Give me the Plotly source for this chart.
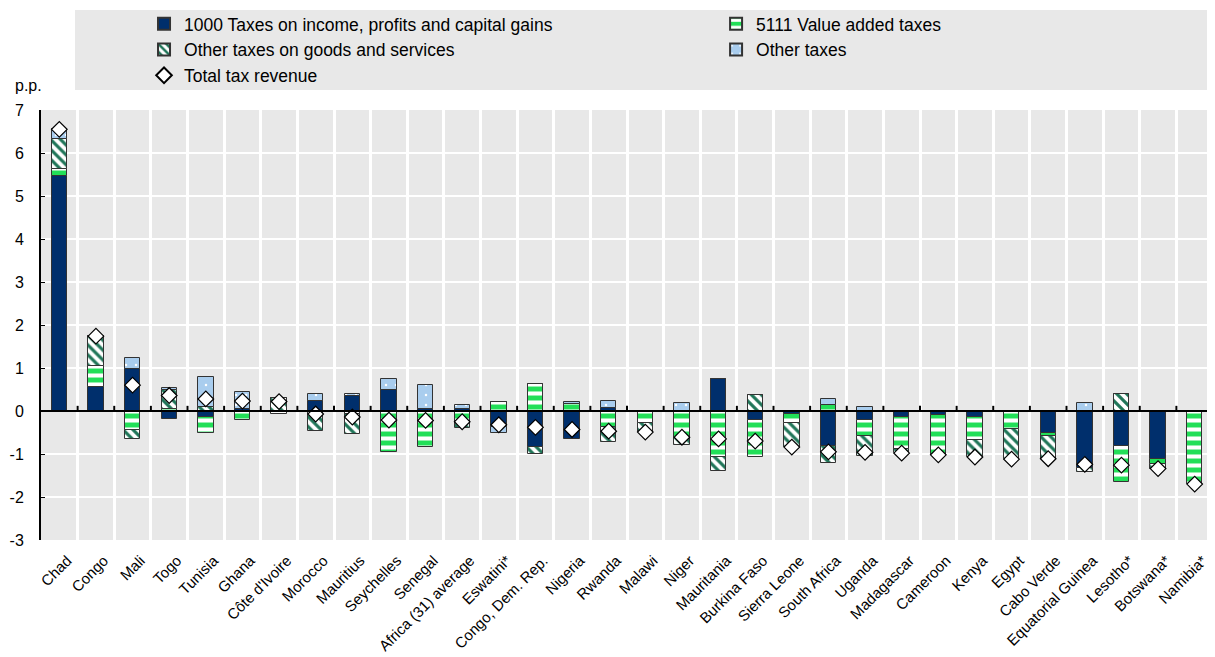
import plotly.graph_objects as go

categories = ["Chad", "Congo", "Mali", "Togo", "Tunisia", "Ghana", "Côte d'Ivoire", "Morocco",
              "Mauritius", "Seychelles", "Senegal", "Africa (31) average", "Eswatini*",
              "Congo, Dem. Rep.", "Nigeria", "Rwanda", "Malawi", "Niger", "Mauritania",
              "Burkina Faso", "Sierra Leone", "South Africa", "Uganda", "Madagascar",
              "Cameroon", "Kenya", "Egypt", "Cabo Verde", "Equatorial Guinea", "Lesotho*",
              "Botswana*", "Namibia*"]

income = [5.47, 0.56, 0.97, -0.18, -0.14, 0.05, 0.0, 0.23, 0.34, 0.50, 0.05, 0.05, -0.38,
          -0.83, -0.65, 0.08, 0.0, 0.0, 0.74, -0.22, -0.08, -0.81, -0.22, -0.15, -0.10,
          -0.14, 0.0, -0.50, -1.32, -0.82, -1.11, 0.0]
vat = [0.15, 0.49, -0.45, 0.04, -0.36, -0.22, -0.08, 0.0, -0.08, -0.96, -0.83, -0.25, 0.20,
       0.62, 0.17, -0.38, -0.29, -0.62, -1.08, -0.85, -0.20, 0.15, -0.35, -0.73, -0.92,
       -0.54, -0.42, -0.07, 0.0, -0.84, -0.13, -1.70]
other_goods = [0.71, 0.69, -0.19, 0.44, 0.10, 0.0, 0.30, -0.47, -0.45, 0.0, 0.0, -0.15, 0.0,
               -0.17, 0.0, -0.33, -0.20, -0.17, -0.31, 0.37, -0.56, -0.41, -0.48, -0.10, 0.0,
               -0.39, -0.70, -0.54, -0.11, 0.40, -0.10, 0.0]
other_taxes = [0.22, 0.0, 0.27, 0.06, 0.68, 0.40, 0.0, 0.17, 0.05, 0.25, 0.56, 0.10, -0.14,
               0.0, 0.05, 0.16, 0.0, 0.18, 0.0, 0.0, 0.0, 0.12, 0.09, 0.0, 0.0, 0.0, 0.0,
               0.0, 0.19, 0.0, 0.0, 0.0]
total = [6.55, 1.74, 0.60, 0.36, 0.28, 0.23, 0.22, -0.07, -0.14, -0.21, -0.22, -0.25, -0.32,
         -0.38, -0.43, -0.47, -0.49, -0.61, -0.65, -0.70, -0.84, -0.95, -0.96, -0.98, -1.02,
         -1.07, -1.12, -1.11, -1.24, -1.26, -1.34, -1.70]

y_ticks = [-3, -2, -1, 0, 1, 2, 3, 4, 5, 6, 7]
y_tick_text = ["-3", "-2", "-1", "0", "1", "2", "3", "4", "5", "6", "7"]

NAVY = "#002F6C"
GREEN = "#22DF58"
TEAL = "#1F7558"
LBLUE = "#A9CDEE"
BG = "#E8E8E8"
FONT = "Liberation Sans, Arial, sans-serif"
outline = dict(color="#333333", width=1)
BW = 0.42

fig = go.Figure()
fig.add_trace(go.Bar(x=categories, y=income, name="1000 Taxes on income, profits and capital gains",
                     width=BW, legend="legend", legendgroup="a",
                     marker=dict(color=NAVY, line=outline)))
fig.add_trace(go.Bar(x=categories, y=vat, name="5111 Value added taxes", width=BW,
                     legend="legend2", legendgroup="b",
                     marker=dict(color=GREEN, line=outline,
                                 pattern=dict(shape="-", fgcolor="white", fillmode="overlay",
                                              fgopacity=1, size=9, solidity=0.45))))
fig.add_trace(go.Bar(x=categories, y=other_goods, name="Other taxes on goods and services", width=BW,
                     legend="legend", legendgroup="c",
                     marker=dict(color="white", line=outline,
                                 pattern=dict(shape="\\", fgcolor=TEAL, fillmode="overlay",
                                              fgopacity=1, size=7, solidity=0.45))))
fig.add_trace(go.Bar(x=categories, y=other_taxes, name="Other taxes", width=BW,
                     legend="legend2", legendgroup="d",
                     marker=dict(color=LBLUE, line=outline,
                                 pattern=dict(shape=".", fgcolor="white", fillmode="overlay",
                                              fgopacity=1, size=10, solidity=0.05))))
fig.add_trace(go.Scatter(x=categories, y=total, name="Total tax revenue", mode="markers",
                         legend="legend", legendgroup="e",
                         marker=dict(symbol="diamond", size=12, color="white",
                                     line=dict(color="black", width=1.2))))

n = len(categories)
shapes = []
# legend background
shapes.append(dict(type="rect", xref="paper", yref="paper", x0=0.029, x1=1.01, y0=1.0465, y1=1.2326,
                   fillcolor=BG, line=dict(width=0), layer="below"))
# zero line
shapes.append(dict(type="line", xref="paper", yref="y", x0=0, x1=1, y0=0, y1=0,
                   line=dict(color="black", width=2), layer="above"))
# small ticks on the zero line at category boundaries
for i in range(n - 1):
    shapes.append(dict(type="line", xref="x", yref="y", x0=i + 0.5, x1=i + 0.5, y0=0, y1=0.12,
                       line=dict(color="black", width=2), layer="above"))

legend_common = dict(orientation="v", xanchor="left", yanchor="top", bgcolor="rgba(0,0,0,0)",
                     traceorder="normal", tracegroupgap=3, itemsizing="constant",
                     font=dict(family=FONT, size=17.5, color="black"))

fig.update_layout(
    width=1207, height=649,
    barmode="relative",
    plot_bgcolor=BG, paper_bgcolor="white",
    margin=dict(l=33, r=2, t=102, b=117, autoexpand=False),
    font=dict(family=FONT, size=15, color="black"),
    showlegend=True,
    legend=dict(x=0.0879, y=1.242, **legend_common),
    legend2=dict(x=0.576, y=1.242, **legend_common),
    shapes=shapes,
    annotations=[dict(text="p.p.", xref="paper", yref="paper", x=-0.011, y=1.058,
                      xanchor="center", yanchor="middle", showarrow=False,
                      font=dict(family=FONT, size=16))],
    bargap=0,
)
fig.update_xaxes(type="category", range=[-0.5, n - 0.5], tickangle=-45, tickson="boundaries",
                 showgrid=True, gridcolor="white", gridwidth=3, ticks="", showline=False,
                 zeroline=False, tickfont=dict(family=FONT, size=15),
                 ticklabelshift=8, ticklabelstandoff=8)
fig.update_yaxes(range=[-3, 7], tickvals=y_ticks, ticktext=y_tick_text, showgrid=True,
                 gridcolor="white", gridwidth=2, zeroline=False, showline=True,
                 linecolor="black", linewidth=2, ticks="inside", ticklen=4, tickcolor="black",
                 ticklabelstandoff=12, tickfont=dict(family=FONT, size=16))

fig.write_html("out.html")
